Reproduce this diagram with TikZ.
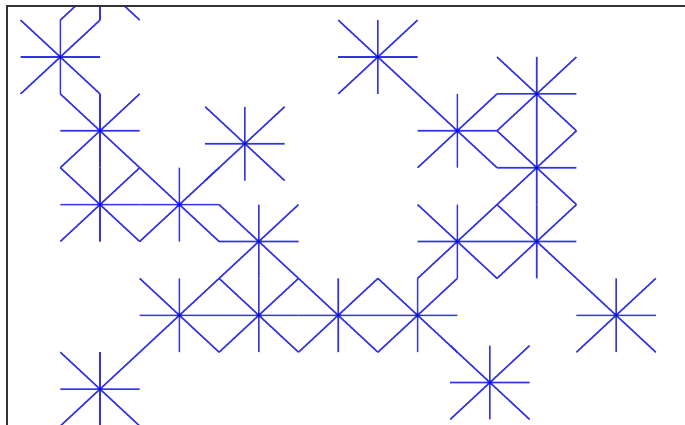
\documentclass[tikz,border=0pt]{standalone}
\definecolor{starblue}{RGB}{50,50,230}
\definecolor{framegray}{RGB}{50,50,50}
\begin{document}
\begin{tikzpicture}[x=1pt,y=-1pt,
  ray/.style={starblue,line width=1.6pt},
  frameline/.style={framegray,line width=1.6pt},
  astar/.pic={
    \draw[ray] (-39.7,0)--(39.7,0) (0,-36.9)--(0,36.9)
               (-39.7,-36.9)--(39.7,36.9) (-39.7,36.9)--(39.7,-36.9);
    \fill[blue] (0,0) circle (1.6);
  }]
\useasboundingbox (0,0) rectangle (685,425);
\fill[white] (0,0) rectangle (685,425);
% star centres
\coordinate (T) at (100,-16.8);
\coordinate (A) at (60.3,57);
\coordinate (B) at (100,130.8);
\coordinate (C) at (100,204.6);
\coordinate (D) at (179.4,204.6);
\coordinate (E) at (244.9,143.7);
\coordinate (F) at (377.9,57);
\coordinate (G) at (457.3,130.8);
\coordinate (H) at (536.7,93.9);
\coordinate (I) at (536.7,167.7);
\coordinate (J) at (258.8,241.5);
\coordinate (K) at (179.4,315.3);
\coordinate (L) at (258.8,315.3);
\coordinate (M) at (338.2,315.3);
\coordinate (N) at (417.6,315.3);
\coordinate (O) at (457.3,241.5);
\coordinate (P) at (536.7,241.5);
\coordinate (Q) at (616.1,315.3);
\coordinate (R) at (489.9,382.5);
\coordinate (S) at (100,389.1);
% frame corners
\coordinate (fbl) at (7,425);
\coordinate (ftl) at (7,6);
\coordinate (ftr) at (685,6);
\begin{scope}
  \clip (ftl) rectangle (685,425);
  \foreach \s in {T,A,B,C,D,E,F,G,H,I,J,K,L,M,N,O,P,Q,R,S}
    \pic at (\s) {astar};
\end{scope}
\draw[frameline] (fbl) -- (ftl) -- (ftr);
\end{tikzpicture}
\end{document}
